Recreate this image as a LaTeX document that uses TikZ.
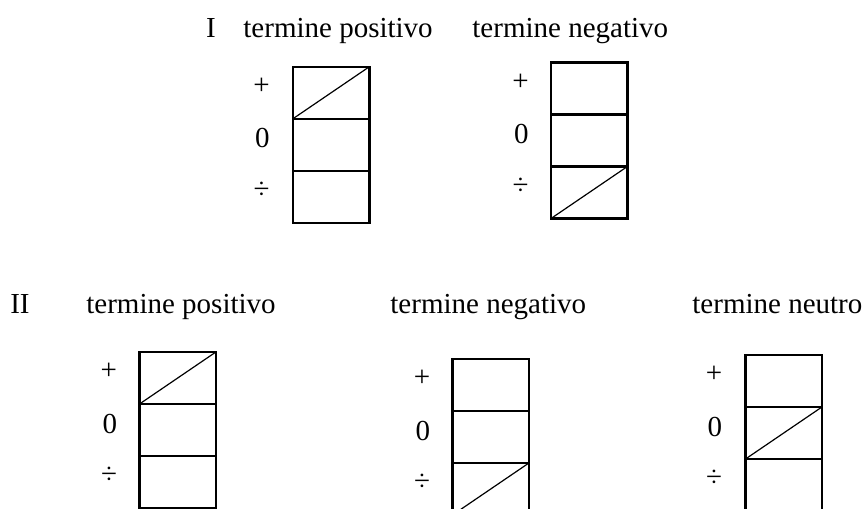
\documentclass[tikz,border=0pt]{standalone}
\usepackage{fontspec}
\setmainfont{Liberation Serif}
\usetikzlibrary{positioning}

\tikzset{
  cell/.style={draw, line width=1.1pt, minimum width=38.2pt, minimum height=26pt, inner sep=0pt, outer sep=0pt},
  sign/.style={inner sep=0pt, font=\fontsize{14.5}{17}\selectfont},
  title/.style={inner sep=0pt, font=\fontsize{14.5}{17}\selectfont, anchor=base west},
  diag/.style={line width=0.6pt}
}

\begin{document}
\begin{tikzpicture}[x=0.5pt, y=-0.5pt]

\useasboundingbox (0,0) rectangle (865,508);
\clip (0,0) rectangle (865,508);

%-------------------------------------------------
% Row I
%-------------------------------------------------

\node[title, anchor=base] (tI) at (211,38) {I};
\node[title] (tIpos) at (243,38) {termine positivo};
\node[title] (tIneg) at (472,38) {termine negativo};

% positive term
\node[cell, anchor=north west] (Ap) at (293,66.7) {};
\node[cell, below=0pt of Ap] (Az) {};
\node[cell, below=0pt of Az] (Am) {};
\draw[diag] (Ap.south west) -- (Ap.north east);

\node[sign, left=11.5pt of Ap, yshift=3.25pt] (Apl) {+};
\node[sign, left=11.5pt of Az, yshift=3.25pt] (Azl) {0};
\node[sign, left=11.5pt of Am, yshift=3.25pt] (Aml) {÷};

% negative term
\node[cell, anchor=north west] (Bp) at (551,62.5) {};
\node[cell, below=0pt of Bp] (Bz) {};
\node[cell, below=0pt of Bz] (Bm) {};
\draw[diag] (Bm.south west) -- (Bm.north east);

\node[sign, left=11pt of Bp, yshift=3.25pt] (Bpl) {+};
\node[sign, left=11pt of Bz, yshift=3.25pt] (Bzl) {0};
\node[sign, left=11pt of Bm, yshift=3.25pt] (Bml) {÷};

%-------------------------------------------------
% Row II
%-------------------------------------------------

\node[title, anchor=base] (tII) at (20,313) {II};
\node[title] (tIIpos) at (86,313) {termine positivo};
\node[title] (tIIneg) at (390,313) {termine negativo};
\node[title] (tIIneu) at (692,313) {termine neutro};

% positive term
\node[cell, anchor=north west] (Cp) at (139.5,352) {};
\node[cell, below=0pt of Cp] (Cz) {};
\node[cell, below=0pt of Cz] (Cm) {};
\draw[diag] (Cp.south west) -- (Cp.north east);

\node[sign, left=11pt of Cp, yshift=3.25pt] (Cpl) {+};
\node[sign, left=11pt of Cz, yshift=3.25pt] (Czl) {0};
\node[sign, left=11pt of Cm, yshift=3.25pt] (Cml) {÷};

% negative term
\node[cell, anchor=north west] (Dp) at (452.5,359) {};
\node[cell, below=0pt of Dp] (Dz) {};
\node[cell, below=0pt of Dz] (Dm) {};
\draw[diag] (Dm.south west) -- (Dm.north east);

\node[sign, left=11pt of Dp, yshift=3.25pt] (Dpl) {+};
\node[sign, left=11pt of Dz, yshift=3.25pt] (Dzl) {0};
\node[sign, left=11pt of Dm, yshift=3.25pt] (Dml) {÷};

% neutral term
\node[cell, anchor=north west] (Ep) at (745.5,355) {};
\node[cell, below=0pt of Ep] (Ez) {};
\node[cell, below=0pt of Ez] (Em) {};
\draw[diag] (Ez.south west) -- (Ez.north east);

\node[sign, left=11.5pt of Ep, yshift=3.25pt] (Epl) {+};
\node[sign, left=11.5pt of Ez, yshift=3.25pt] (Ezl) {0};
\node[sign, left=11.5pt of Em, yshift=3.25pt] (Eml) {÷};

\end{tikzpicture}
\end{document}
